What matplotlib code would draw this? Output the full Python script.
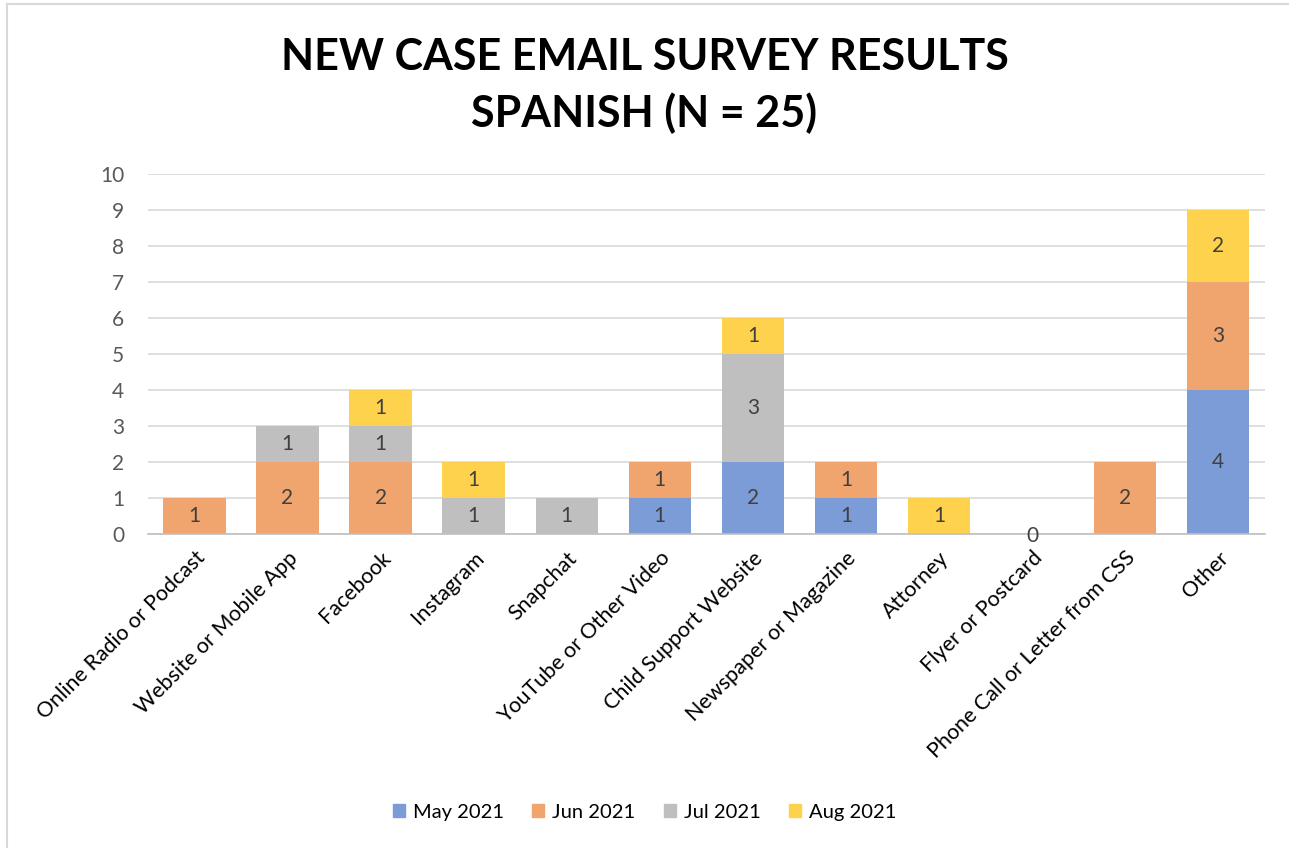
import numpy as np
import matplotlib
matplotlib.use("Agg")
from matplotlib import pyplot as plt
from matplotlib.lines import Line2D

plt.rcParams["font.family"] = ["Lato", "DejaVu Sans"]

categories = [
    "Online Radio or Podcast", "Website or Mobile App", "Facebook", "Instagram",
    "Snapchat", "YouTube or Other Video", "Child Support Website",
    "Newspaper or Magazine", "Attorney", "Flyer or Postcard",
    "Phone Call or Letter from CSS", "Other",
]
series_names = ["May 2021", "Jun 2021", "Jul 2021", "Aug 2021"]
# None = no response recorded for that month
may_2021 = [None, None, None, None, None, 1, 2, 1, None, None, None, 4]
jun_2021 = [1, 2, 2, None, None, 1, None, 1, None, 0, 2, 3]
jul_2021 = [None, 1, 1, 1, 1, None, 3, None, None, None, None, None]
aug_2021 = [None, None, 1, 1, None, None, 1, None, 1, None, None, 2]
colors = ["#7B9CD6", "#F0A46E", "#BFBFBF", "#FFD24D"]

fig = plt.figure(figsize=(12.89, 8.48), dpi=100)
ax = fig.add_axes([0.1148, 0.3703, 0.8663, 0.4245])

x = np.arange(len(categories))
bottom = np.zeros(len(categories))
for name, vals, col in zip(series_names, [may_2021, jun_2021, jul_2021, aug_2021], colors):
    v = np.array([np.nan if a is None else a for a in vals], dtype=float)
    h = np.nan_to_num(v)
    ax.bar(x, h, 0.67, bottom=bottom, color=col, label=name, zorder=2)
    for i in range(len(x)):
        if not np.isnan(v[i]):
            yc = bottom[i] + h[i] / 2 if h[i] > 0 else -0.05
            ax.text(x[i], yc, f"{int(v[i])}", ha="center", va="center",
                    fontsize=15, color="#404040", zorder=3)
    bottom += h

ax.set_xlim(-0.5, len(categories) - 0.5)
ax.set_ylim(0, 10)
ax.set_yticks(range(0, 11))
ax.yaxis.grid(True, color="#D9D9D9", linewidth=1.2, zorder=0)
ax.set_axisbelow(True)
for s in ["top", "right", "left"]:
    ax.spines[s].set_visible(False)
ax.spines["bottom"].set_color("#BFBFBF")
ax.spines["bottom"].set_linewidth(1.2)
ax.tick_params(axis="both", length=0)
ax.tick_params(axis="y", labelsize=15, labelcolor="#595959", pad=17)
ax.set_xticks(x)
ax.set_xticklabels(categories, rotation=45, ha="right", va="top",
                   rotation_mode="anchor", fontsize=15.5, color="black")
ax.tick_params(axis="x", pad=10)

fig.text(0.5, 0.933, "NEW CASE EMAIL SURVEY RESULTS", ha="center", va="center",
         fontsize=31, fontweight="bold")
fig.text(0.5, 0.867, "SPANISH (N = 25)", ha="center", va="center",
         fontsize=31, fontweight="bold")

handles = [plt.Rectangle((0, 0), 1, 1, color=c) for c in colors]
fig.legend(handles, series_names, loc="center", bbox_to_anchor=(0.5, 0.042),
           ncol=4, frameon=False, fontsize=14.5, handlelength=0.6, handleheight=0.6,
           handletextpad=0.4, columnspacing=1.4)

# outer chart frame (top and left edges)
fig.add_artist(Line2D([7 / 1289, 1], [1 - 4 / 848, 1 - 4 / 848], color="#D9D9D9", lw=1.5))
fig.add_artist(Line2D([7 / 1289, 7 / 1289], [0, 1 - 4 / 848], color="#D9D9D9", lw=1.5))

fig.savefig("out.png", dpi=100)
